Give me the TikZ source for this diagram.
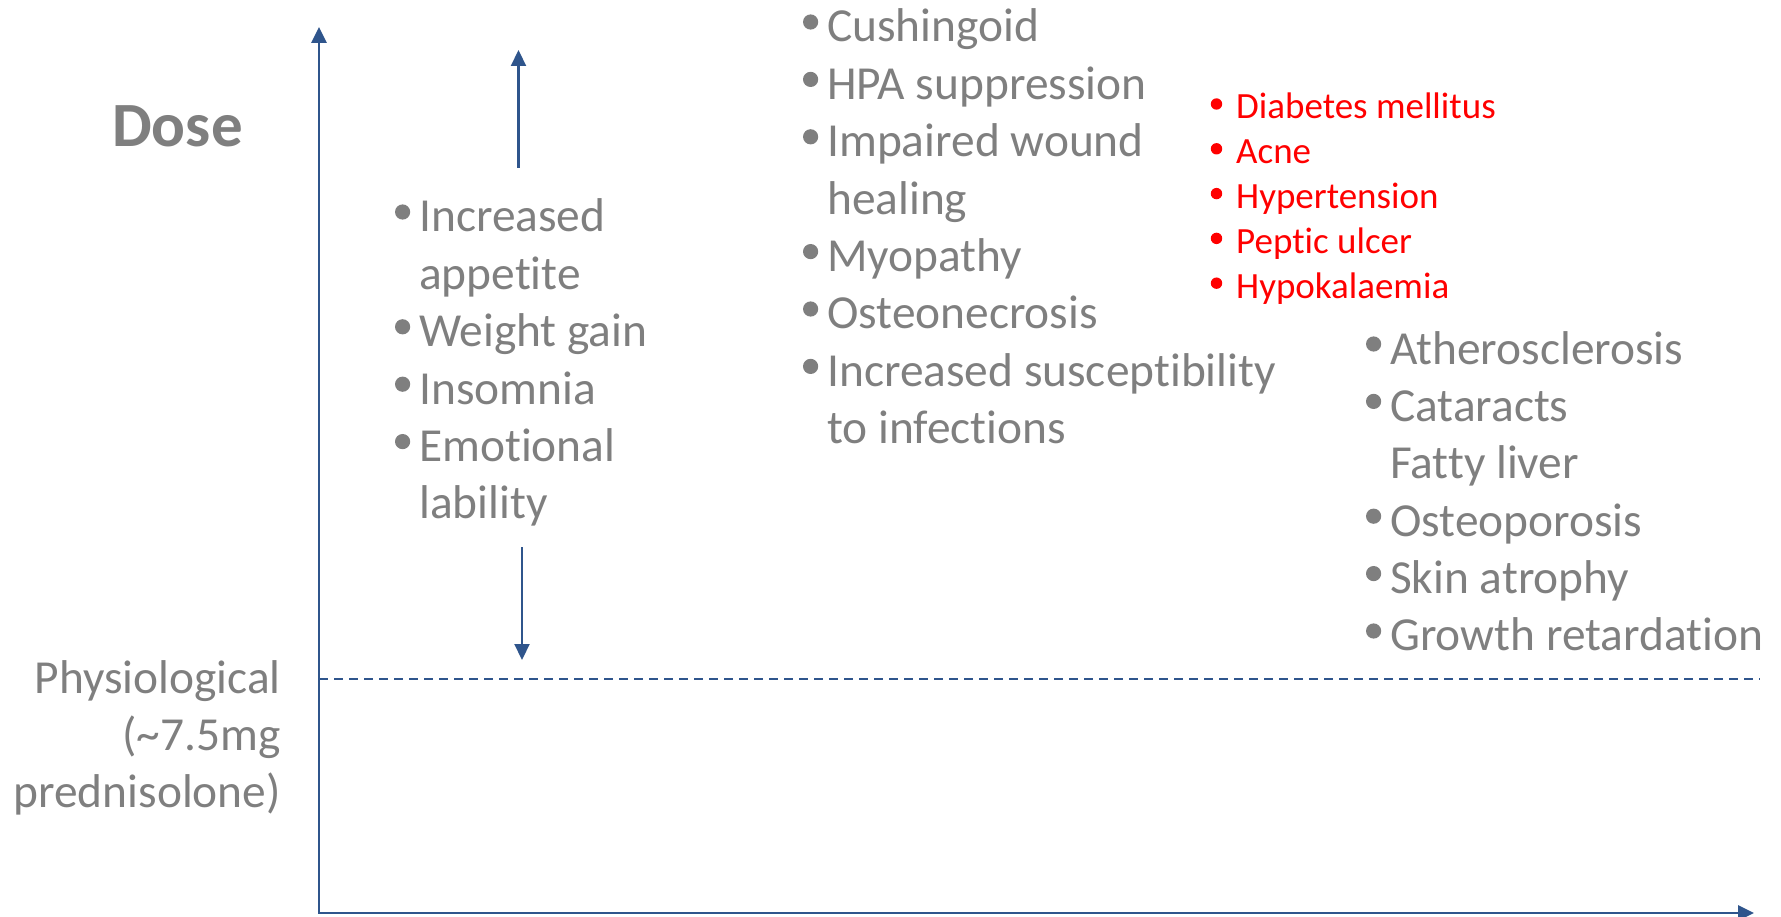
\documentclass[tikz,border=0pt]{standalone}
\usepackage{fontspec}
\setmainfont{Carlito}[Ligatures={NoCommon,NoRequired,NoContextual}]
\usetikzlibrary{arrows.meta}
\definecolor{axisblue}{RGB}{47,85,140}
\definecolor{txtgray}{RGB}{127,127,127}
\definecolor{txtred}{RGB}{255,0,0}
\newcommand\gbul{\llap{\tikz[baseline=0pt]\fill[txtgray] (0pt,20pt) circle[radius=7.6pt];\hspace{9pt}}}
\newcommand\rbul{\llap{\tikz[baseline=0pt]\fill[txtred] (0pt,15pt) circle[radius=5.7pt];\hspace{14pt}}}
\begin{document}
\begin{tikzpicture}[x=1pt,y=-1pt,
  axisline/.style={draw=axisblue,line width=2.8pt,line join=miter,
    {Triangle[width=15pt,length=16pt]}-{Triangle[width=15pt,length=16pt]}},
  rangearrow/.style={draw=axisblue,line width=2.2pt,-{Triangle[width=15pt,length=16pt]}},
  physline/.style={draw=axisblue,line width=1.6pt,dash pattern=on 9pt off 6pt},
  graylist/.style={inner sep=0pt,anchor=base west,text=txtgray,
    font=\fontsize{47.4}{57.4}\selectfont},
  redlist/.style={inner sep=0pt,anchor=base west,text=txtred,
    font=\fontsize{37}{44.8}\selectfont},
  axislabel/.style={inner sep=0pt,text=txtgray},
]
\useasboundingbox (0,0) rectangle (1781,917);
\coordinate (ytop) at (319,27);
\coordinate (origin) at (319,913);
\coordinate (xend) at (1754,913);
\draw[axisline] (ytop) -- (origin) -- (xend);

\coordinate (physL) at (319,679);
\coordinate (physR) at (1760,679);
\draw[physline] (physL) -- (physR);

\coordinate (upS) at (518.5,168);
\coordinate (upE) at (518.5,50);
\draw[rangearrow] (upS) -- (upE);
\coordinate (dnS) at (522,547);
\coordinate (dnE) at (522,660);
\draw[rangearrow] (dnS) -- (dnE);

\node[axislabel,font=\fontsize{63}{63}\selectfont\bfseries] (dose) at (177.5,126.5) {Dose};
\node[axislabel,anchor=base east,font=\fontsize{47.4}{57.4}\selectfont] (phys) at (281,693)
  {\begin{tabular}[t]{@{}r@{}}Physiological\\(\textasciitilde7.5mg\\prednisolone)\end{tabular}};

\node[graylist] (colA) at (419,232) {\begin{tabular}[t]{@{}l@{}}
\gbul Increased\\appetite\\\gbul Weight gain\\\gbul Insomnia\\\gbul Emotional\\lability\end{tabular}};

\node[graylist] (colB) at (827,42) {\begin{tabular}[t]{@{}l@{}}
\gbul Cushingoid\\\gbul HPA suppression\\\gbul Impaired wound\\healing\\\gbul Myopathy\\\gbul Osteonecrosis\\\gbul Increased susceptibility\\to infections\end{tabular}};

\node[redlist] (colC) at (1236,119) {\begin{tabular}[t]{@{}l@{}}
\rbul Diabetes mellitus\\\rbul Acne\\\rbul Hypertension\\\rbul Peptic ulcer\\\rbul Hypokalaemia\end{tabular}};

\node[graylist] (colD) at (1390,364) {\begin{tabular}[t]{@{}l@{}}
\gbul Atherosclerosis\\\gbul Cataracts\\Fatty liver\\\gbul Osteoporosis\\\gbul Skin atrophy\\\gbul Growth retardation\end{tabular}};
\end{tikzpicture}
\end{document}
